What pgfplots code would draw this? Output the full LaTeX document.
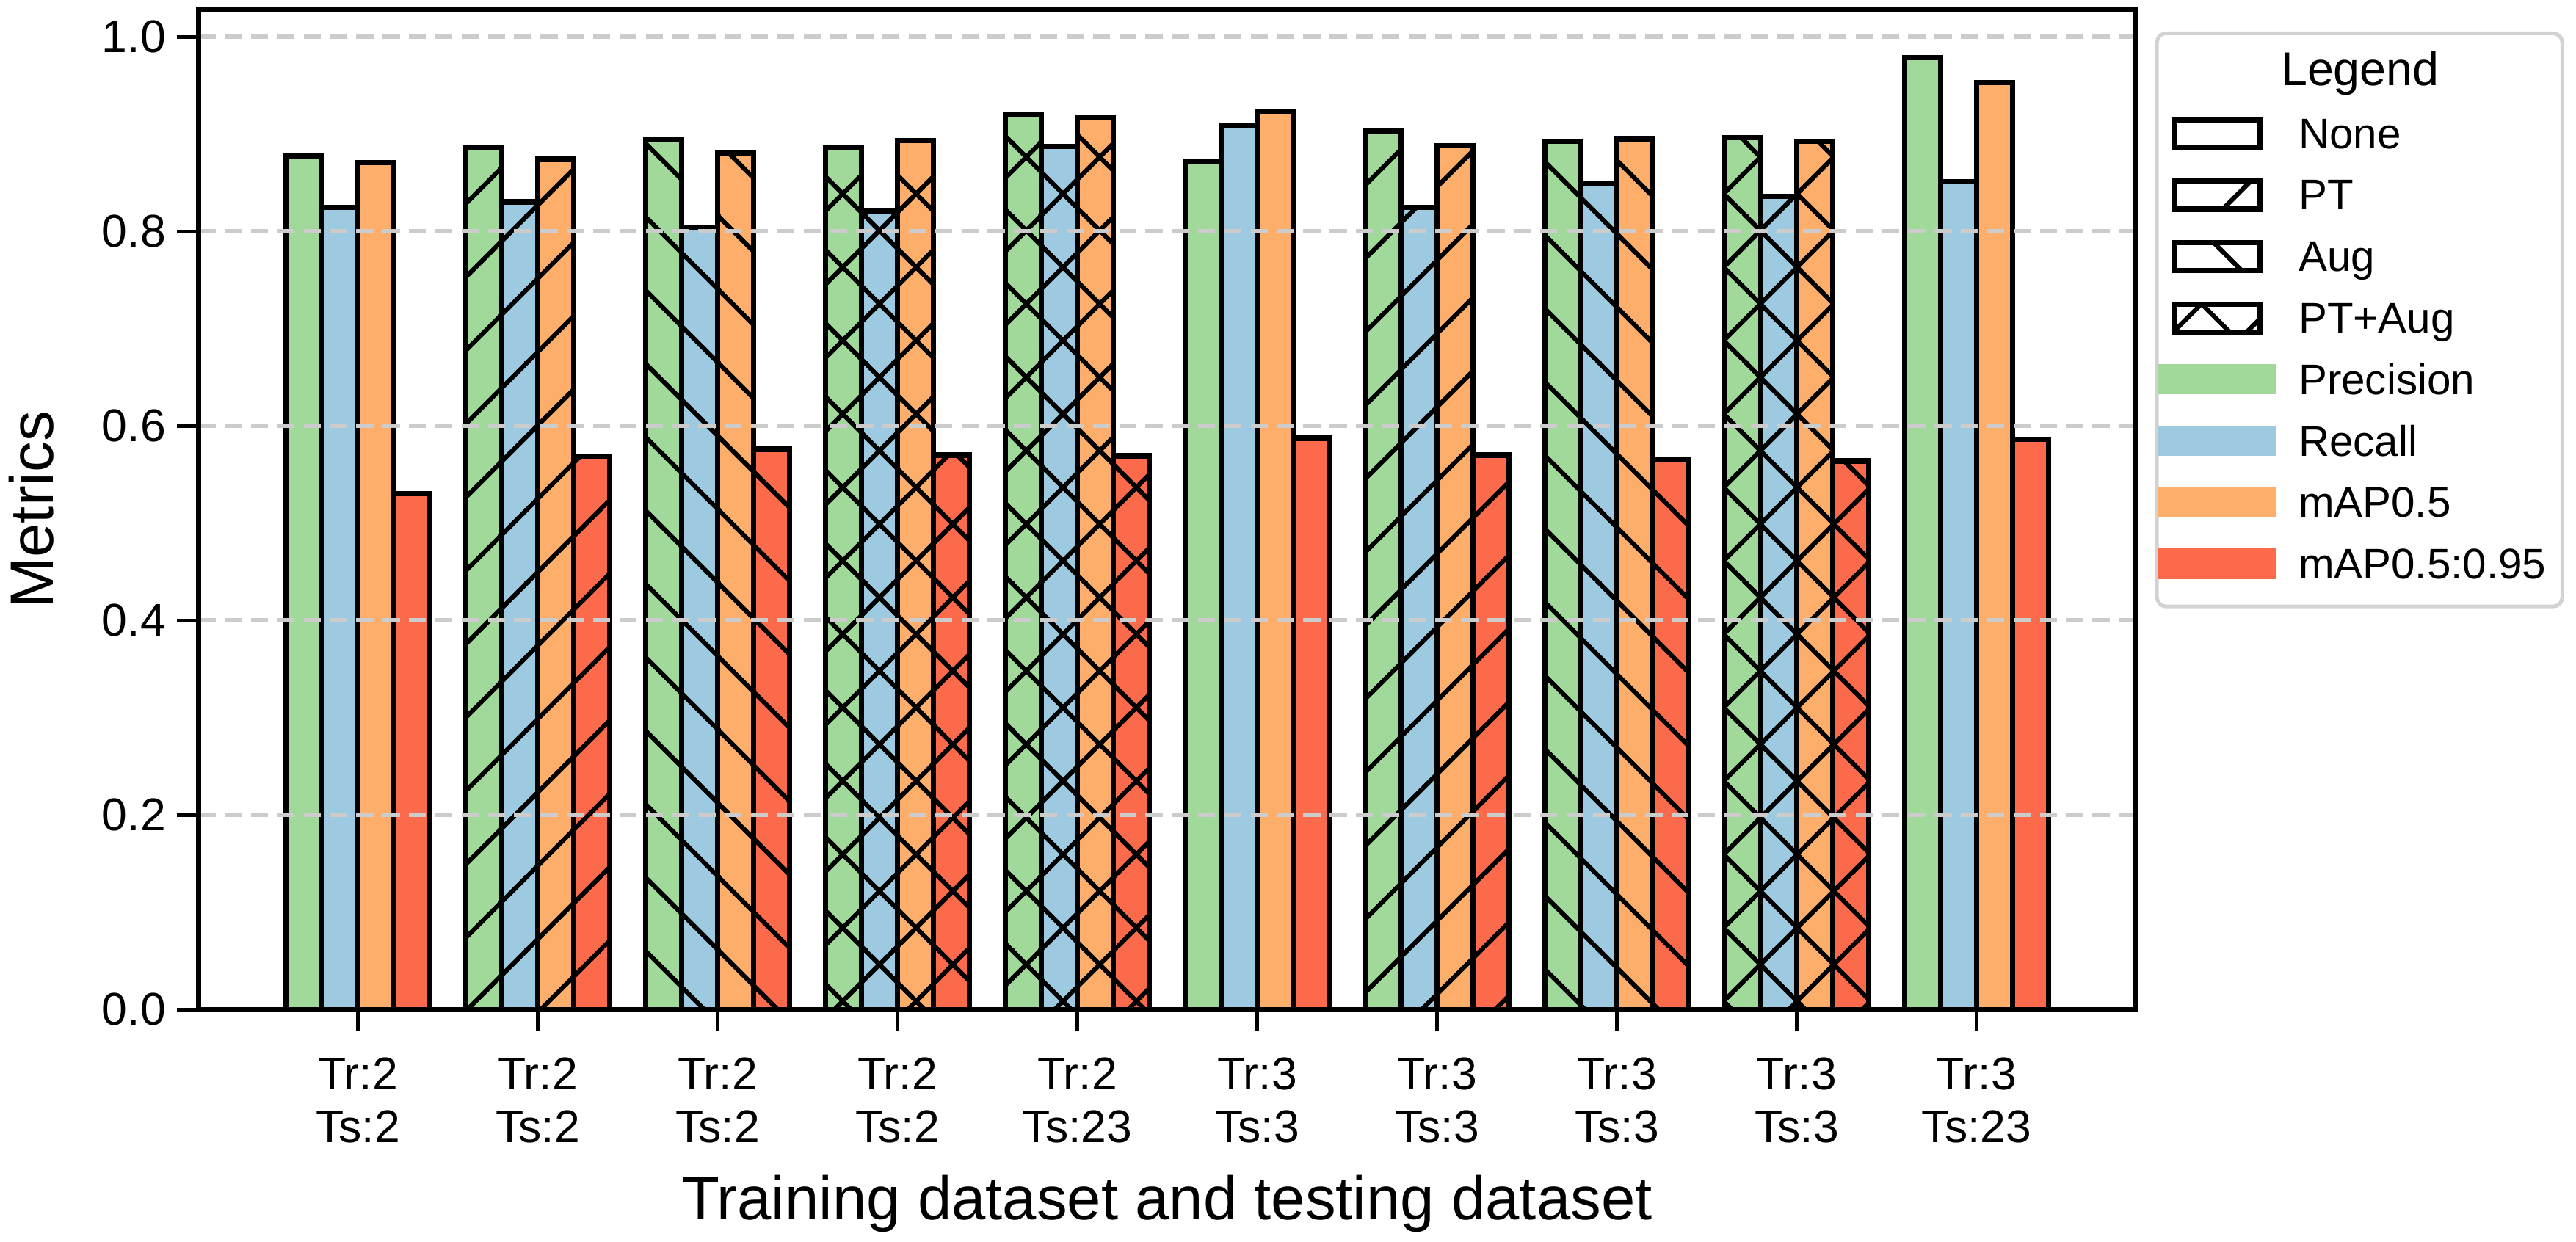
\documentclass[border=0pt]{standalone}
\usepackage{fontspec}
\setmainfont{Liberation Sans}
\usepackage{pgfplots}
\pgfplotsset{compat=1.18}
\usepackage{pgfplotstable}
\usetikzlibrary{patterns.meta}

\definecolor{cP}{HTML}{A1D99B}
\definecolor{cR}{HTML}{9ECAE1}
\definecolor{cM}{HTML}{FDAE6B}
\definecolor{cN}{HTML}{FB6A4A}
\definecolor{gridgray}{HTML}{CCCCCC}
\definecolor{leggray}{HTML}{D2D2D2}

\tikzdeclarepattern{
  name=hNE, type=uncolored,
  bounding box={(0pt,0pt) and (24pt,24pt)},
  tile size={(24pt,24pt)},
  code={
    \draw[line width=1.5pt] (-2pt,-31.04pt) -- (26pt,-3.04pt);
    \draw[line width=1.5pt] (-2pt,-7.04pt) -- (26pt,20.96pt);
    \draw[line width=1.5pt] (-2pt,16.96pt) -- (26pt,44.96pt);
  }
}
\tikzdeclarepattern{
  name=hNW, type=uncolored,
  bounding box={(0pt,0pt) and (24pt,24pt)},
  tile size={(24pt,24pt)},
  code={
    \draw[line width=1.5pt] (-2pt,-3.52pt) -- (26pt,-31.52pt);
    \draw[line width=1.5pt] (-2pt,20.48pt) -- (26pt,-7.52pt);
    \draw[line width=1.5pt] (-2pt,44.48pt) -- (26pt,16.48pt);
  }
}
\tikzdeclarepattern{
  name=hX, type=uncolored,
  bounding box={(0pt,0pt) and (24pt,24pt)},
  tile size={(24pt,24pt)},
  code={
    \draw[line width=1.5pt] (-2pt,-31.04pt) -- (26pt,-3.04pt);
    \draw[line width=1.5pt] (-2pt,-7.04pt) -- (26pt,20.96pt);
    \draw[line width=1.5pt] (-2pt,16.96pt) -- (26pt,44.96pt);
    \draw[line width=1.5pt] (-2pt,-3.52pt) -- (26pt,-31.52pt);
    \draw[line width=1.5pt] (-2pt,20.48pt) -- (26pt,-7.52pt);
    \draw[line width=1.5pt] (-2pt,44.48pt) -- (26pt,16.48pt);
  }
}

% columns: group position, Precision, Recall, mAP0.5, mAP0.5:0.95
\pgfplotstableread{
x P R M N
0 0.8775 0.8246 0.8708 0.5306
5 0.8720 0.9093 0.9236 0.5874
9 0.9787 0.8510 0.9529 0.5861
}\tNone
\pgfplotstableread{
x P R M N
1 0.8865 0.8305 0.8743 0.5688
6 0.9032 0.8246 0.8881 0.5700
}\tPT
\pgfplotstableread{
x P R M N
2 0.8945 0.8044 0.8806 0.5761
7 0.8925 0.8491 0.8955 0.5656
}\tAug
\pgfplotstableread{
x P R M N
3 0.8859 0.8212 0.8934 0.5702
4 0.9207 0.8875 0.9177 0.5694
8 0.8965 0.8360 0.8925 0.5641
}\tPTAug

\pgfplotsset{
  mybar/.style={ybar, bar width=0.2, draw=black, line width=1.8pt},
}

\begin{document}
\begin{tikzpicture}
\path[use as bounding box] (-64.9pt,-75.96pt) rectangle (777.3pt,330.1pt);
\begin{axis}[
  at={(0pt,0pt)}, anchor=south west,
  scale only axis, width=633.4pt, height=326.8pt,
  xmin=-0.886, xmax=9.886, ymin=0, ymax=1.0276,
  axis on top,
  axis line style={line width=1.8pt},
  tick align=outside, tick pos=left, major tick length=7pt,
  every tick/.style={black, line width=1.1pt},
  xtick={0,...,9},
  xticklabels={{Tr:2\\Ts:2},{Tr:2\\Ts:2},{Tr:2\\Ts:2},{Tr:2\\Ts:2},{Tr:2\\Ts:23},{Tr:3\\Ts:3},{Tr:3\\Ts:3},{Tr:3\\Ts:3},{Tr:3\\Ts:3},{Tr:3\\Ts:23}},
  xticklabel style={align=center, font=\fontsize{15}{17.2}\selectfont, inner sep=0pt, anchor=north, yshift=-8.5pt},
  ytick={0,0.2,0.4,0.6,0.8,1.0},
  yticklabels={0.0,0.2,0.4,0.6,0.8,1.0},
  yticklabel style={font=\fontsize{15}{18}\selectfont, inner sep=0pt, anchor=east, xshift=-3.5pt},
  ymajorgrids,
  grid style={line width=1.4pt, color=gridgray, dash pattern=on 5.6pt off 3pt},
  xlabel={Training dataset and testing dataset},
  xlabel style={at={(axis description cs:0.5,-0.21022)}, anchor=base, inner sep=0pt, font=\fontsize{20}{24}\selectfont},
  ylabel={Metrics},
  ylabel style={at={(axis description cs:-0.07483,0.5)}, anchor=base, inner sep=0pt, font=\fontsize{20}{24}\selectfont},
]
% None
\addplot[mybar, bar shift=-0.3, fill=cP] table[x=x,y=P]{\tNone};
\addplot[mybar, bar shift=-0.1, fill=cR] table[x=x,y=R]{\tNone};
\addplot[mybar, bar shift=0.1, fill=cM] table[x=x,y=M]{\tNone};
\addplot[mybar, bar shift=0.3, fill=cN] table[x=x,y=N]{\tNone};
% PT
\addplot[mybar, bar shift=-0.3, fill=cP, postaction={pattern={hNE}, pattern color=black}] table[x=x,y=P]{\tPT};
\addplot[mybar, bar shift=-0.1, fill=cR, postaction={pattern={hNE}, pattern color=black}] table[x=x,y=R]{\tPT};
\addplot[mybar, bar shift=0.1, fill=cM, postaction={pattern={hNE}, pattern color=black}] table[x=x,y=M]{\tPT};
\addplot[mybar, bar shift=0.3, fill=cN, postaction={pattern={hNE}, pattern color=black}] table[x=x,y=N]{\tPT};
% Aug
\addplot[mybar, bar shift=-0.3, fill=cP, postaction={pattern={hNW}, pattern color=black}] table[x=x,y=P]{\tAug};
\addplot[mybar, bar shift=-0.1, fill=cR, postaction={pattern={hNW}, pattern color=black}] table[x=x,y=R]{\tAug};
\addplot[mybar, bar shift=0.1, fill=cM, postaction={pattern={hNW}, pattern color=black}] table[x=x,y=M]{\tAug};
\addplot[mybar, bar shift=0.3, fill=cN, postaction={pattern={hNW}, pattern color=black}] table[x=x,y=N]{\tAug};
% PT+Aug
\addplot[mybar, bar shift=-0.3, fill=cP, postaction={pattern={hX}, pattern color=black}] table[x=x,y=P]{\tPTAug};
\addplot[mybar, bar shift=-0.1, fill=cR, postaction={pattern={hX}, pattern color=black}] table[x=x,y=R]{\tPTAug};
\addplot[mybar, bar shift=0.1, fill=cM, postaction={pattern={hX}, pattern color=black}] table[x=x,y=M]{\tPTAug};
\addplot[mybar, bar shift=0.3, fill=cN, postaction={pattern={hX}, pattern color=black}] table[x=x,y=N]{\tPTAug};
\end{axis}

% legend
\draw[leggray, line width=1.2pt, rounded corners=3pt, fill=white] (640.3pt,131.8pt) rectangle (772.8pt,319.2pt);
\node[anchor=base, inner sep=0pt, font=\fontsize{15.5}{18}\selectfont] at (706.7pt,302.1pt) {Legend};
\def\lfont{\fontsize{14}{16}\selectfont}
\draw[line width=1.8pt] (646pt,281.8pt) rectangle (674.1pt,291.0pt);
\node[anchor=base west, inner sep=0pt, font=\lfont] at (686.4pt,281.6pt) {None};
\draw[line width=1.8pt, postaction={pattern={hNE}, pattern color=black}] (646pt,261.7pt) rectangle (674.1pt,270.9pt);
\node[anchor=base west, inner sep=0pt, font=\lfont] at (686.4pt,261.5pt) {PT};
\draw[line width=1.8pt, postaction={pattern={hNW}, pattern color=black}] (646pt,241.6pt) rectangle (674.1pt,250.8pt);
\node[anchor=base west, inner sep=0pt, font=\lfont] at (686.4pt,241.4pt) {Aug};
\draw[line width=1.8pt, postaction={pattern={hX}, pattern color=black}] (646pt,221.4pt) rectangle (674.1pt,230.6pt);
\node[anchor=base west, inner sep=0pt, font=\lfont] at (686.4pt,221.2pt) {PT+Aug};
\fill[cP] (640.7pt,201.1pt) rectangle (679.3pt,211.1pt);
\node[anchor=base west, inner sep=0pt, font=\lfont] at (686.4pt,201.1pt) {Precision};
\fill[cR] (640.7pt,181.0pt) rectangle (679.3pt,191.0pt);
\node[anchor=base west, inner sep=0pt, font=\lfont] at (686.4pt,181.0pt) {Recall};
\fill[cM] (640.7pt,160.9pt) rectangle (679.3pt,170.9pt);
\node[anchor=base west, inner sep=0pt, font=\lfont] at (686.4pt,160.9pt) {mAP0.5};
\fill[cN] (640.7pt,140.8pt) rectangle (679.3pt,150.8pt);
\node[anchor=base west, inner sep=0pt, font=\lfont] at (686.4pt,140.8pt) {mAP0.5:0.95};
\end{tikzpicture}
\end{document}
